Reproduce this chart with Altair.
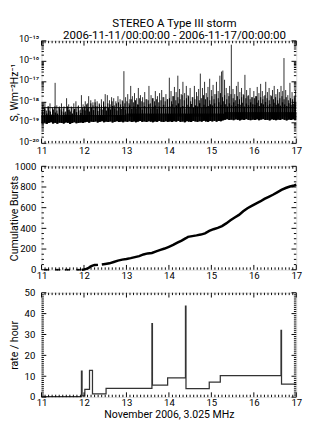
import math
import altair as alt
import pandas as pd

W = 266
FONT = "Roboto"

# ---------------- Panel 1: flux density (log10 S), 0.05-day bins ----------------
band_start = 11.0
band_step = 0.05
band_low = [
    -19.02, -18.98, -19.05, -19.00, -18.97, -19.03, -19.00, -19.04, -18.99, -19.01,
    -19.03, -18.98, -19.00, -19.05, -19.01, -18.97, -19.02, -19.00, -18.98, -19.01,
    -18.97, -18.95, -18.99, -18.94, -18.96, -18.93, -18.98, -18.95, -18.92, -18.97,
    -18.94, -18.96, -18.93, -18.98, -18.95, -18.92, -18.96, -18.94, -18.97, -18.93,
    -18.95, -18.92, -18.96, -18.93, -18.97, -18.94, -18.91, -18.95, -18.93, -18.96,
    -18.92, -18.94, -18.97, -18.93, -18.95, -18.91, -18.94, -18.96, -18.92, -18.95,
    -18.93, -18.96, -18.92, -18.94, -18.91, -18.95, -18.93, -18.97, -18.92, -18.94,
    -18.96, -18.91, -18.93, -18.95, -18.92, -18.94, -18.90, -18.93, -18.95, -18.91,
    -18.93, -18.90, -18.94, -18.91, -18.92, -18.88, -18.85, -18.82, -18.86, -18.84,
    -18.87, -18.83, -18.85, -18.88, -18.84, -18.86, -18.82, -18.85, -18.87, -18.84,
    -18.86, -18.83, -18.87, -18.84, -18.82, -18.86, -18.85, -18.88, -18.83, -18.85,
    -18.87, -18.84, -18.86, -18.82, -18.85, -18.88, -18.84, -18.86, -18.83, -18.87,
]
band_high = [
    -18.45, -18.30, -18.55, -18.40, -18.60, -18.35, -18.50, -18.55, -18.30, -18.45,
    -18.50, -18.60, -18.38, -18.45, -18.55, -18.32, -18.48, -18.40, -18.52, -18.35,
    -18.40, -18.30, -18.45, -18.25, -18.38, -18.20, -18.42, -18.30, -18.35, -18.22,
    -18.40, -18.28, -18.35, -18.18, -18.30, -18.40, -18.25, -18.32, -18.20, -18.35,
    -18.28, -18.15, -18.32, -18.20, -18.30, -18.12, -18.25, -18.35, -18.18, -18.28,
    -18.10, -18.30, -18.22, -18.15, -18.32, -18.20, -18.26, -18.12, -18.30, -18.22,
    -18.20, -18.10, -18.28, -18.15, -18.05, -18.25, -18.18, -18.30, -18.12, -18.22,
    -18.08, -18.26, -18.15, -18.20, -18.05, -18.28, -18.12, -18.22, -18.18, -18.10,
    -18.15, -18.05, -18.20, -18.00, -18.12, -17.95, -18.10, -18.20, -18.05, -18.15,
    -18.00, -18.18, -18.08, -18.12, -18.02, -18.20, -18.06, -18.14, -18.00, -18.10,
    -18.12, -18.02, -18.18, -18.05, -18.10, -17.98, -18.15, -18.08, -18.20, -18.02,
    -18.12, -18.06, -18.16, -18.00, -18.10, -18.18, -18.04, -18.12, -18.08, -18.15,
]
# short dark spikes between the band bins (read as the ragged dark fringe)
fringe_peak = [
    -18.35, -18.25, -18.40, -18.20, -18.45, -18.30, -18.20, -18.40, -18.25, -18.35,
    -18.30, -18.45, -18.20, -18.35, -18.25, -18.40, -18.30, -18.20, -18.35, -18.25,
    -18.20, -18.10, -18.25, -18.05, -18.15, -18.00, -18.20, -18.10, -18.15, -18.00,
    -18.20, -18.05, -18.10, -17.95, -18.15, -18.05, -18.00, -18.10, -17.95, -18.05,
    -17.95, -18.05, -17.85, -18.00, -17.90, -18.10, -17.80, -17.95, -18.00, -17.85,
    -17.90, -18.05, -17.80, -17.95, -17.85, -18.00, -17.90, -17.75, -17.95, -17.85,
    -17.80, -17.95, -17.70, -17.90, -17.75, -17.85, -17.65, -17.90, -17.80, -17.70,
    -17.95, -17.75, -17.85, -17.70, -17.90, -17.80, -17.65, -17.85, -17.75, -17.90,
    -17.70, -17.85, -17.60, -17.80, -17.55, -17.75, -17.65, -17.85, -17.70, -17.60,
    -17.80, -17.90, -17.70, -17.85, -17.75, -17.65, -17.80, -17.70, -17.85, -17.75,
    -17.80, -17.70, -17.90, -17.75, -17.85, -17.65, -17.80, -17.90, -17.70, -17.85,
    -17.75, -17.90, -17.80, -17.70, -17.85, -17.75, -17.90, -17.80, -17.85, -17.75,
]
band_core_top = [-18.62] * 40 + [-18.55] * 46 + [-18.48] * 34
spike_day = [
    11.03, 11.08, 11.15, 11.20, 11.26, 11.32, 11.36, 11.42, 11.47, 11.53, 11.59, 11.64, 11.70, 11.76, 11.81, 11.87, 11.94, 11.98,
    12.03, 12.08, 12.11, 12.16, 12.21, 12.26, 12.31, 12.36, 12.41, 12.46, 12.50, 12.55, 12.60, 12.65, 12.70, 12.75, 12.80, 12.85, 12.90, 12.94, 12.98,
    13.03, 13.08, 13.10, 13.14, 13.19, 13.24, 13.28, 13.33, 13.38, 13.43, 13.48, 13.53, 13.58, 13.63, 13.68, 13.73, 13.78, 13.83, 13.88, 13.93, 13.97,
    14.01, 14.05, 14.09, 14.13, 14.17, 14.21, 14.25, 14.29, 14.33, 14.37, 14.41, 14.45, 14.50, 14.55, 14.60, 14.65, 14.70, 14.74, 14.79, 14.84, 14.88, 14.92, 14.96,
    15.00, 15.04, 15.08, 15.12, 15.16, 15.20, 15.24, 15.27, 15.31, 15.35, 15.39, 15.43, 15.47, 15.51, 15.55, 15.59, 15.63, 15.67, 15.71, 15.75, 15.79, 15.83, 15.87, 15.91, 15.95,
    16.00, 16.04, 16.08, 16.12, 16.16, 16.20, 16.24, 16.28, 16.32, 16.36, 16.40, 16.44, 16.48, 16.52, 16.56, 16.60, 16.64, 16.68, 16.71, 16.75, 16.80, 16.85, 16.90, 16.95, 16.98,
]
spike_peak = [
    -18.15, -18.00, -18.20, -18.05, -18.25, -17.05, -18.15, -18.20, -18.05, -18.20, -17.80, -18.10, -18.20, -18.05, -17.95, -18.15, -17.65, -18.10,
    -17.95, -18.05, -17.70, -17.90, -18.00, -17.85, -17.95, -18.05, -17.85, -17.95, -17.60, -17.65, -17.90, -17.75, -17.80, -17.95, -17.70, -17.85, -17.90, -16.48, -17.75,
    -17.60, -17.85, -17.20, -17.70, -17.55, -17.80, -17.30, -17.65, -17.75, -17.50, -17.85, -17.20, -17.65, -17.80, -17.45, -17.70, -17.55, -17.40, -17.75, -17.60, -17.85,
    -16.80, -17.45, -17.70, -17.25, -17.50, -16.70, -17.35, -17.60, -17.00, -17.55, -17.20, -17.65, -17.30, -17.75, -17.20, -17.50, -17.35, -16.60, -17.30, -17.00, -17.55, -17.25, -16.85,
    -17.40, -17.15, -17.60, -17.00, -17.45, -16.70, -16.50, -16.45, -16.90, -17.30, -17.55, -17.20, -15.19, -17.35, -17.60, -17.20, -17.00, -17.50, -17.30, -17.60, -16.66, -17.40, -17.65, -17.30, -17.75,
    -17.45, -17.70, -17.25, -17.55, -17.10, -17.45, -17.70, -17.00, -17.50, -17.30, -17.65, -17.40, -17.20, -17.60, -17.35, -17.50, -17.20, -17.45, -15.84, -17.40, -17.65, -17.05, -17.50, -17.70, -17.40,
]
spike_base = -18.70
threshold_log = -18.26
log_ticks = [-20, -19, -18, -17, -16, -15]

# ---------------- Panel 2: cumulative bursts ----------------
cum_day = [11.95, 12.00, 12.05, 12.10, 12.15, 12.20, 12.25, 12.33,
           12.42, 12.50, 12.60, 12.70, 12.80, 12.90, 13.00, 13.10, 13.20, 13.30,
           13.40, 13.50, 13.60, 13.70, 13.80, 13.90, 14.00, 14.10, 14.20, 14.30,
           14.40, 14.45, 14.55, 14.65, 14.75, 14.85, 14.95, 15.05, 15.15, 15.25,
           15.35, 15.45, 15.55, 15.65, 15.75, 15.85, 15.95, 16.05, 16.15, 16.25,
           16.35, 16.45, 16.55, 16.65, 16.75, 16.85, 16.95, 17.00]
cum_count = [0, 3, 8, 15, 30, 40, 45, 47,
             50, 55, 62, 75, 88, 98, 103, 112, 122, 132,
             148, 158, 162, 178, 192, 205, 222, 240, 262, 282,
             305, 318, 325, 332, 340, 352, 375, 392, 405, 422,
             448, 478, 505, 530, 565, 595, 618, 640, 660, 685,
             705, 725, 748, 772, 790, 805, 815, 822]
cum_seg = [1] * 8 + [2] * (len(cum_day) - 8)
early_day = [11.08, 11.12, 11.16, 11.34, 11.38, 11.42, 11.57, 11.61, 11.65, 11.84, 11.88, 11.92]
early_count = [0] * len(early_day)

# ---------------- Panel 3: rate per hour (step function) ----------------
rate_start = [11.0, 11.94, 11.955, 12.02, 12.13, 12.20, 12.52, 13.60, 13.612,
              13.97, 14.39, 14.402, 14.95, 15.21, 16.64, 16.652, 17.0]
rate_value = [0.2, 12.5, 0.6, 3.75, 12.8, 1.6, 4.2, 35.2, 5.8,
              9.2, 43.6, 4.1, 7.2, 10.3, 32.0, 6.25, 6.25]

x_major = [11, 12, 13, 14, 15, 16, 17]
x_minor = [11 + k / 12 for k in range(0, 73) if k % 12 != 0]

# ---------------- helpers ----------------
xs = alt.Scale(domain=[11, 17], nice=False, zero=False)


def x_axis(title=None, lpad=1):
    kw = dict(values=x_major, format="d", ticks=False, domain=False, grid=False,
              labelPadding=lpad, labelFlush=False, labelFont=FONT, labelFontSize=10,
              labelColor="black")
    if title:
        kw.update(title=title, titleFont=FONT, titleFontSize=11, titleFontWeight="normal",
                  titlePadding=1, titleColor="black")
    else:
        kw.update(title=None)
    return alt.Axis(**kw)


def y_axis(title, values, label_expr=None, lsize=10, lpad=6, loff=0):
    kw = dict(values=values, ticks=False, domain=False, grid=False, labelPadding=lpad,
              labelFont=FONT, labelFontSize=lsize, labelColor="black", format="d",
              title=title, titleFont=FONT, titleFontSize=11, titleFontWeight="normal",
              titleColor="black", titleX=-23, titleBaseline="bottom")
    if loff:
        kw["labelOffset"] = loff
    if label_expr:
        kw["labelExpr"] = label_expr
    return alt.Axis(**kw)


def tick_layers(H, ys, xax, yax, y_major, y_minor):
    X = alt.X("t:Q", scale=xs, axis=xax)
    Y = alt.Y("v:Q", scale=ys, axis=yax)
    dxM = pd.DataFrame({"t": x_major})
    dxm = pd.DataFrame({"t": x_minor})
    dyM = pd.DataFrame({"v": y_major})
    dym = pd.DataFrame({"v": y_minor})
    layers = []
    for df, L in ((dxM, 5), (dxm, 2.5)):
        layers.append(alt.Chart(df).mark_rule(color="black", strokeWidth=1).encode(
            x=X, y=alt.value(H), y2=alt.value(H - L)))
        layers.append(alt.Chart(df).mark_rule(color="black", strokeWidth=1).encode(
            x=X, y=alt.value(0), y2=alt.value(L)))
    for df, L in ((dyM, 5), (dym, 2.5)):
        layers.append(alt.Chart(df).mark_rule(color="black", strokeWidth=1).encode(
            y=Y, x=alt.value(0), x2=alt.value(L)))
        layers.append(alt.Chart(df).mark_rule(color="black", strokeWidth=1).encode(
            y=Y, x=alt.value(W), x2=alt.value(W - L)))
    return layers


# ---------------- panel 1 ----------------
H1, H2, H3 = 107, 108, 109
ys1 = alt.Scale(domain=[-20, -15], nice=False, zero=False)
sup = {-15: "⁻¹⁵", -16: "⁻¹⁶", -17: "⁻¹⁷", -18: "⁻¹⁸", -19: "⁻¹⁹", -20: "⁻²⁰"}
expr = "'10' + (" + " : ".join(
    [f"datum.value == {k} ? '{v}'" for k, v in sup.items()]) + " : '')"
yax1 = y_axis("S, Wm⁻²Hz⁻¹", log_ticks, expr, lsize=9.5, lpad=3, loff=-2)
xax1 = x_axis(lpad=3)
X1 = alt.X("t:Q", scale=xs, axis=xax1)
Y1 = alt.Y("v:Q", scale=ys1, axis=yax1)

band_t = [band_start + band_step * (i + 0.5) for i in range(len(band_low))]
fringe_t = [band_start + band_step * (i + 0.25) for i in range(len(fringe_peak))]
band_df = pd.DataFrame({"t": band_t, "v": band_low, "v2": band_high})
core_df = pd.DataFrame({"t": band_t, "v": band_low, "v2": band_core_top})
fringe_df = pd.DataFrame({"t": fringe_t, "v": band_low, "v2": fringe_peak})
spike_df = pd.DataFrame({"t": spike_day, "v": [spike_base] * len(spike_day), "v2": spike_peak})
thr_df = pd.DataFrame({"v": [threshold_log]})

minor1 = [d + math.log10(m) for d in range(-20, -15) for m in range(2, 10)]

p1 = alt.layer(
    alt.Chart(spike_df).mark_rule(color="#2a2a2a", strokeWidth=1).encode(x=X1, y=Y1, y2="v2:Q"),
    alt.Chart(fringe_df).mark_rule(color="black", strokeWidth=1).encode(x=X1, y=Y1, y2="v2:Q"),
    alt.Chart(band_df).mark_rule(color="black", strokeWidth=1.4).encode(x=X1, y=Y1, y2="v2:Q"),
    alt.Chart(core_df).mark_rule(color="black", strokeWidth=2.4).encode(x=X1, y=Y1, y2="v2:Q"),
    alt.Chart(thr_df).mark_rule(color="black", strokeWidth=1).encode(
        y=Y1, x=alt.value(0), x2=alt.value(W)),
    *tick_layers(H1, ys1, xax1, yax1, log_ticks, minor1),
).properties(width=W, height=H1)

# ---------------- panel 2 ----------------
ys2 = alt.Scale(domain=[0, 1000], nice=False, zero=False)
yax2 = y_axis("Cumulative Bursts", [0, 200, 400, 600, 800, 1000], lpad=6)
xax2 = x_axis()
X2 = alt.X("t:Q", scale=xs, axis=xax2)
Y2 = alt.Y("v:Q", scale=ys2, axis=yax2)
cum_df = pd.DataFrame({"t": cum_day, "v": cum_count, "seg": cum_seg})
early_df = pd.DataFrame({"t": early_day, "v": early_count})
p2 = alt.layer(
    alt.Chart(cum_df).mark_line(color="black", strokeWidth=2.6).encode(
        x=X2, y=Y2, detail="seg:N"),
    alt.Chart(early_df).mark_point(color="black", filled=True, size=5, opacity=1).encode(x=X2, y=Y2),
    *tick_layers(H2, ys2, xax2, yax2, [0, 200, 400, 600, 800, 1000],
                 [v for v in range(0, 1001, 50) if v % 200]),
).properties(width=W, height=H2)

# ---------------- panel 3 ----------------
ys3 = alt.Scale(domain=[0, 50], nice=False, zero=False)
yax3 = y_axis("rate / hour", [0, 10, 20, 30, 40, 50], lpad=7)
xax3 = x_axis("November 2006, 3.025 MHz")
X3 = alt.X("t:Q", scale=xs, axis=xax3)
Y3 = alt.Y("v:Q", scale=ys3, axis=yax3)
rate_df = pd.DataFrame({"t": rate_start, "v": rate_value})
p3 = alt.layer(
    alt.Chart(rate_df).mark_line(color="#333333", strokeWidth=1.3, interpolate="step-after").encode(
        x=X3, y=Y3),
    *tick_layers(H3, ys3, xax3, yax3, [0, 10, 20, 30, 40, 50], [v for v in range(0, 51) if v % 10]),
).properties(width=W, height=H3)

chart = alt.vconcat(p1, p2, p3, spacing=24, bounds="flush").properties(
    padding=0,
    title=alt.TitleParams(
        text=["STEREO A Type III storm", "2006-11-11/00:00:00 - 2006-11-17/00:00:00"],
        font=FONT, fontSize=12, fontWeight="normal", color="black",
        anchor="middle", lineHeight=13, offset=-9, dx=20),
).configure_view(stroke="black", strokeWidth=1).configure(background="white")

chart.save("out.html", embed_options={"renderer": "svg", "actions": False})
